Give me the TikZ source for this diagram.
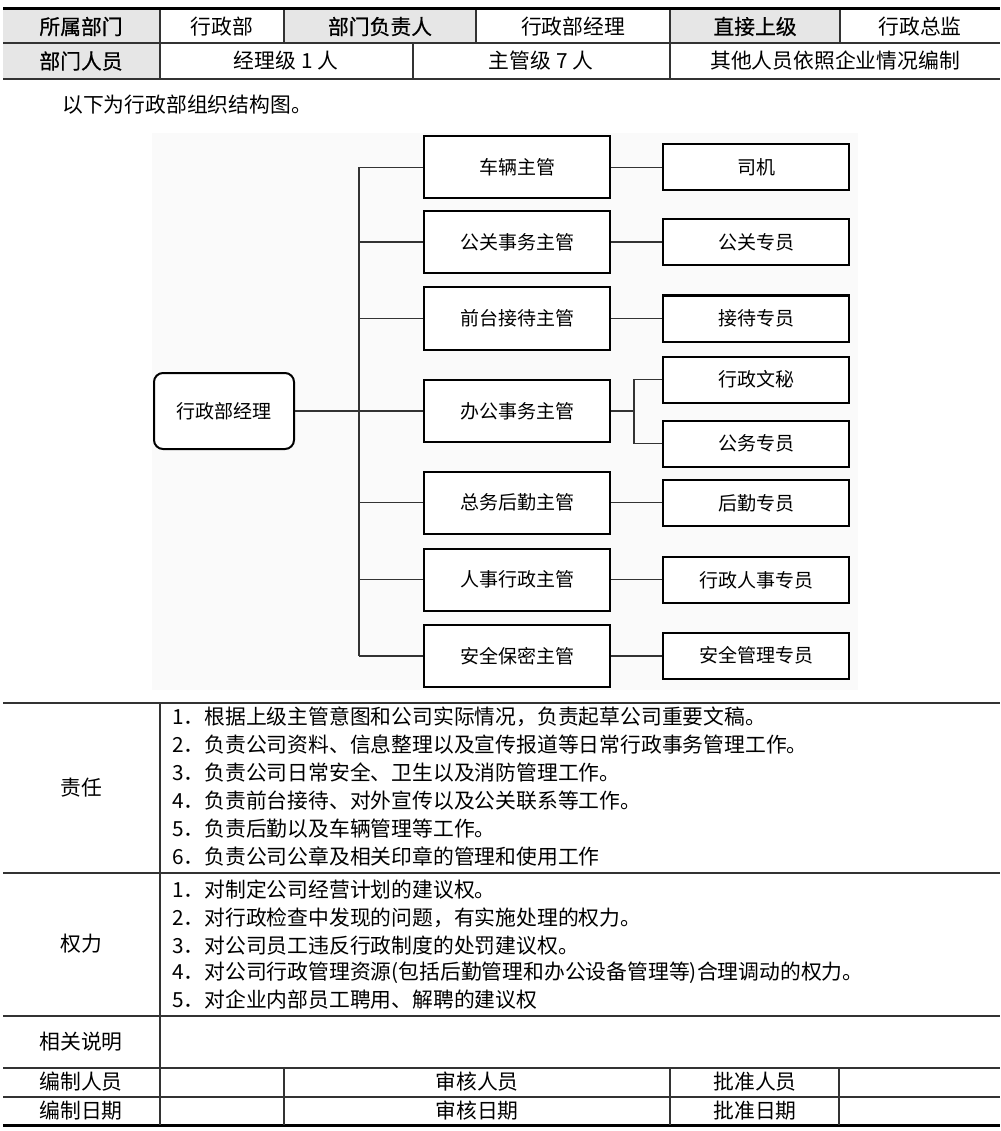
\documentclass[tikz,border=0pt]{standalone}
\usepackage{fontspec}
\setmainfont{Noto Sans CJK SC}
\newfontfamily\heifont[FakeBold=0.6]{Noto Sans CJK SC}
\definecolor{hdrgray}{HTML}{E6E6E6}
\definecolor{linegray}{HTML}{333333}
\begin{document}
\begin{tikzpicture}[x=1pt,y=-1pt,
  tline/.style={line width=1.4pt, draw=linegray},
  thick line/.style={line width=3pt, draw=black},
  txt/.style={inner sep=0pt, font=\fontsize{20.8}{24}\selectfont},
  lbl/.style={inner sep=0pt, font=\heifont\fontsize{20.8}{24}\selectfont},
  item/.style={txt, anchor=west},
  supbox/.style={draw=black, line width=2pt, minimum width=186pt, minimum height=62pt, inner sep=0pt, font=\fontsize{19}{22}\selectfont, fill=white},
  staffbox/.style={draw=black, line width=2pt, minimum width=186pt, minimum height=46pt, inner sep=0pt, font=\fontsize{19}{22}\selectfont, fill=white},
  mgrbox/.style={draw=black, line width=2pt, rounded corners=9pt, minimum width=140pt, minimum height=76pt, inner sep=0pt, font=\fontsize{19}{22}\selectfont, fill=white},
  conn/.style={line width=1.5pt, draw=linegray}
]
\useasboundingbox (0,0) rectangle (1000,1131);
\fill[white] (0,0) rectangle (1000,1131);

% ---------------- header table ----------------
\fill[hdrgray] (3,10) rectangle (160,43);
\fill[hdrgray] (284,10) rectangle (476,43);
\fill[hdrgray] (670,10) rectangle (840,43);
\fill[hdrgray] (3,43) rectangle (160,79);
\draw[thick line] (3,9) -- (1000,9);
\draw[tline] (3,43) -- (1000,43);
\draw[tline] (3,79) -- (1000,79);
\foreach \xx in {160,284,476,670,840} \draw[tline] (\xx,10) -- (\xx,43);
\foreach \xx in {160,413,670} \draw[tline] (\xx,43) -- (\xx,79);

\node[lbl] (h1) at (81,26.5) {所属部门};
\node[txt] (h2) at (222,26.5) {行政部};
\node[lbl] (h3) at (380,26.5) {部门负责人};
\node[txt] (h4) at (573,26.5) {行政部经理};
\node[lbl] (h5) at (755,26.5) {直接上级};
\node[txt] (h6) at (920,26.5) {行政总监};
\node[lbl] (h7) at (81,61) {部门人员};
\node[txt] (h8) at (286,61) {经理级 1 人};
\node[txt] (h9) at (541,61) {主管级 7 人};
\node[txt] (h10) at (835,61) {其他人员依照企业情况编制};

\node[txt, anchor=west] (intro) at (62,105) {以下为行政部组织结构图。};

% ---------------- org chart ----------------
\fill[gray!4] (152,133) rectangle (858,690);

\node[mgrbox] (mgr) at (224,411) {行政部经理};

\node[supbox] (s1) at (517,167.5) {车辆主管};
\node[supbox] (s2) at (517,242) {公关事务主管};
\node[supbox] (s3) at (517,318.5) {前台接待主管};
\node[supbox] (s4) at (517,411) {办公事务主管};
\node[supbox] (s5) at (517,502.5) {总务后勤主管};
\node[supbox] (s6) at (517,579.5) {人事行政主管};
\node[supbox] (s7) at (517,656) {安全保密主管};

\node[staffbox] (r1) at (756,167.5) {司机};
\node[staffbox] (r2) at (756,242.5) {公关专员};
\node[staffbox] (r3) at (756,318.5) {接待专员};
\node[staffbox] (r4a) at (756,379.5) {行政文秘};
\node[staffbox] (r4b) at (756,443.5) {公务专员};
\node[staffbox] (r5) at (756,503) {后勤专员};
\node[staffbox] (r6) at (756,580) {行政人事专员};
\node[staffbox] (r7) at (756,655.5) {安全管理专员};

\coordinate (tt) at (359,167.5);
\coordinate (tb) at (359,656);
\coordinate (bx) at (634,411);

\draw[conn] (tt) -- (tb);
\draw[conn] (mgr.east) -- (s4.west);
\foreach \s in {s1,s2,s3,s5,s6,s7} \draw[conn] (\s.west) -- (\s.west -| tt);
\draw[conn] (s1.east) -- (s1.east -| r1.west);
\draw[conn] (s2.east) -- (s2.east -| r2.west);
\draw[conn, line width=0.9pt] (s3.east) -- (s3.east -| r3.west);
\draw[conn] (s5.east) -- (s5.east -| r5.west);
\draw[conn] (s6.east) -- (s6.east -| r6.west);
\draw[conn] (s7.east) -- (s7.east -| r7.west);
\draw[conn] (s4.east) -- (bx);
\draw[conn] (r4a.west) -- (r4a.west -| bx) -- (r4b.west -| bx) -- (r4b.west);

% ---------------- bottom table ----------------
\draw[tline] (3,703) -- (1000,703);
\draw[tline] (3,873) -- (1000,873);
\draw[tline] (3,1016) -- (1000,1016);
\draw[tline] (3,1068) -- (1000,1068);
\draw[tline] (3,1097) -- (1000,1097);
\draw[thick line] (3,1125) -- (1000,1125);
\draw[tline] (160,703) -- (160,1125);
\foreach \xx in {284,670,839} \draw[tline] (\xx,1068) -- (\xx,1125);

\node[txt] (zr) at (81,788) {责任};
\node[item] (z1) at (172,717) {1．根据上级主管意图和公司实际情况，负责起草公司重要文稿。};
\node[item] (z2) at (172,745) {2．负责公司资料、信息整理以及宣传报道等日常行政事务管理工作。};
\node[item] (z3) at (172,773) {3．负责公司日常安全、卫生以及消防管理工作。};
\node[item] (z4) at (172,801) {4．负责前台接待、对外宣传以及公关联系等工作。};
\node[item] (z5) at (172,829) {5．负责后勤以及车辆管理等工作。};
\node[item] (z6) at (172,856) {6．负责公司公章及相关印章的管理和使用工作};

\node[txt] (ql) at (81,944) {权力};
\node[item] (q1) at (172,890) {1．对制定公司经营计划的建议权。};
\node[item] (q2) at (172,918) {2．对行政检查中发现的问题，有实施处理的权力。};
\node[item] (q3) at (172,946) {3．对公司员工违反行政制度的处罚建议权。};
\node[item] (q4) at (172,973) {4．对公司行政管理资源(包括后勤管理和办公设备管理等)合理调动的权力。};
\node[item] (q5) at (172,1000) {5．对企业内部员工聘用、解聘的建议权};

\node[txt] (xg) at (81,1042) {相关说明};
\node[txt] (b1) at (81,1082) {编制人员};
\node[txt] (b2) at (477,1082) {审核人员};
\node[txt] (b3) at (755,1082) {批准人员};
\node[txt] (b4) at (81,1111) {编制日期};
\node[txt] (b5) at (477,1111) {审核日期};
\node[txt] (b6) at (755,1111) {批准日期};
\end{tikzpicture}
\end{document}
